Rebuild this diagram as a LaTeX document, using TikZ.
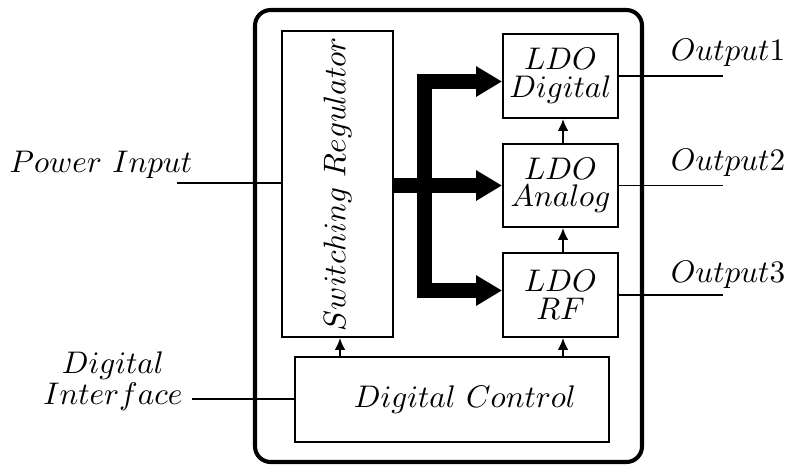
\documentclass[tikz,border=0pt]{standalone}
\usetikzlibrary{arrows.meta,calc}
\begin{document}
\begin{tikzpicture}[x=0.32pt,y=-0.32pt,
  box/.style={draw,line width=0.6pt,inner sep=0pt,align=center,font={\baselineskip=8.8pt}},
  lbl/.style={inner sep=0pt,align=center,font={\baselineskip=8.8pt}},
  wire/.style={line width=0.6pt},
  sarrow/.style={line width=0.6pt,-{Latex[length=3.8pt,width=3.4pt]}},
  bus/.style={line width=4.8pt,-{Triangle[length=8.3pt,width=9.2pt]}},
  busboth/.style={line width=4.8pt,{Triangle[length=8.3pt,width=9.2pt]}-{Triangle[length=8.3pt,width=9.2pt]}}]
\useasboundingbox (0,0) rectangle (788,464);
% outer frame
\draw[line width=1.3pt,rounded corners=5pt] (255,10) rectangle (642,462);
% blocks
\node[box,minimum width=97.92pt,minimum height=35.52pt,rotate=90] (SR) at (337.5,184) {$Switching\ Regulator$};
\node[box,minimum width=36.8pt,minimum height=26.88pt] (LD) at (560.5,76) {$LDO$\\$Digital$};
\node[box,minimum width=36.8pt,minimum height=26.56pt] (LA) at (560.5,185.5) {$LDO$\\$Analog$};
\node[box,minimum width=36.8pt,minimum height=26.88pt] (LR) at (560.5,295) {$LDO$\\$RF$};
\node[box,minimum width=100.48pt,minimum height=27.2pt] (DC) at (452,399.5) {\hspace{8.3pt}$Digital\ Control$};
% labels
\node[lbl] (PI) at (101,165) {$Power\ Input$};
\node[lbl] (DI) at (113,381) {$Digital$\\$Interface$};
\node[lbl] (O1) at (728,53) {$Output1$};
\node[lbl] (O2) at (728,163) {$Output2$};
\node[lbl] (O3) at (728,275) {$Output3$};
% input wires
\coordinate (pin) at (177,183);
\draw[wire] (pin) -- (pin -| SR.north);
\coordinate (din) at (192,399);
\draw[wire] (din) -- (DC.west |- din);
% output wires
\coordinate (oend) at (723,0);
\draw[wire] (LD.east) -- (LD.east -| oend);
\draw[wire] (LA.east) -- (LA.east -| oend);
\draw[wire] (LR.east) -- (LR.east -| oend);
% control arrows
\coordinate (xa) at (340,0);
\coordinate (xb) at (563,0);
\draw[sarrow] (DC.north -| xa) -- (SR.west -| xa);
\draw[sarrow] (DC.north -| xb) -- (LR.south -| xb);
\draw[sarrow] (LR.north -| xb) -- (LA.south -| xb);
\draw[sarrow] (LA.north -| xb) -- (LD.south -| xb);
% power bus
\coordinate (bt) at (424.5,81.5);
\coordinate (bb) at (424.5,290.5);
\draw[busboth] (bt -| LD.west) -- (bt) -- (bb) -- (bb -| LR.west);
\draw[bus] (SR.south |- LA.west) -- (LA.west);
\end{tikzpicture}
\end{document}
